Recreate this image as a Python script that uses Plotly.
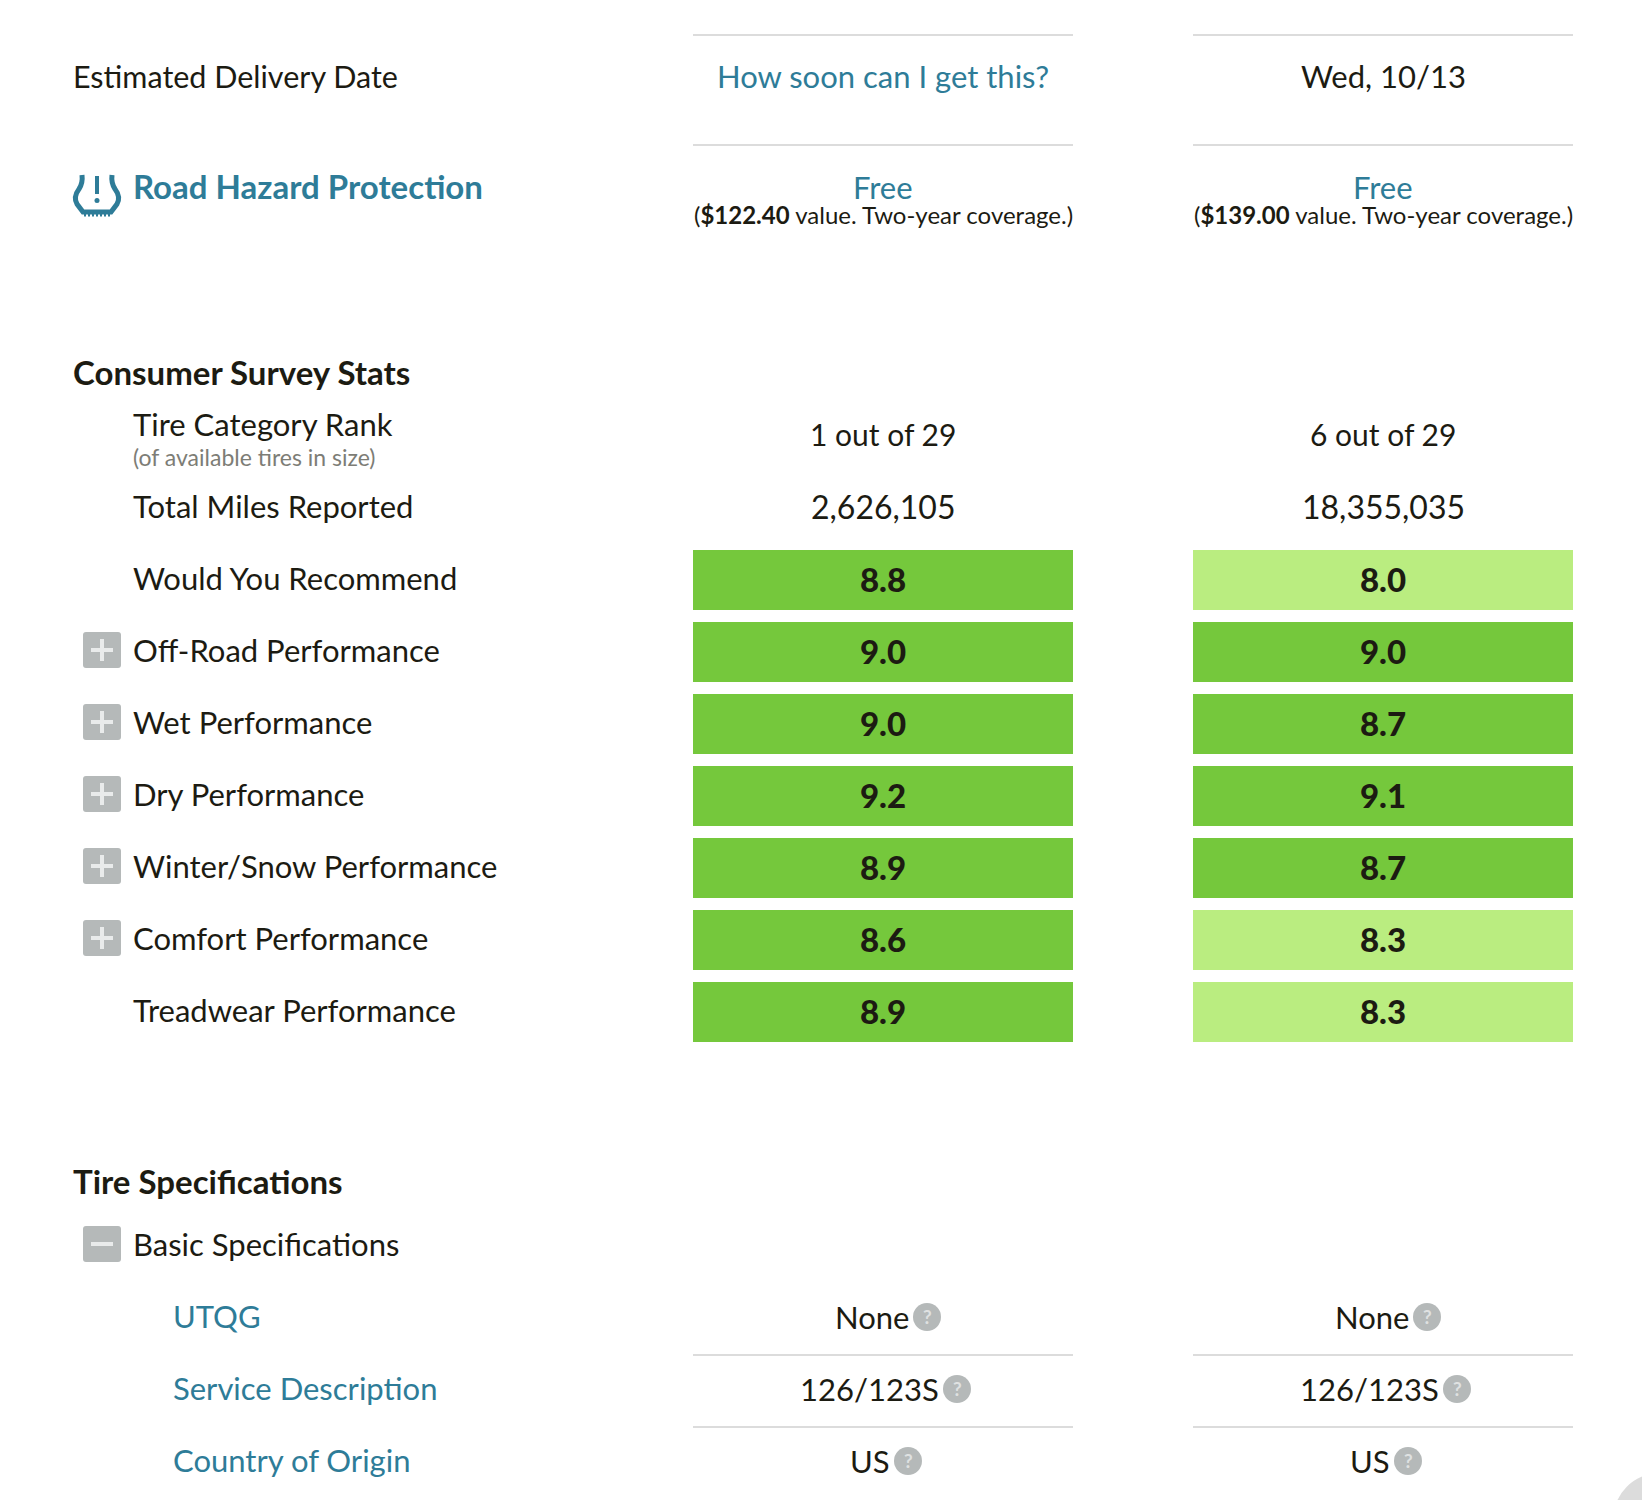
"""Tire comparison table."""

import plotly.graph_objects as go

# values
survey_rows = [
    "Would You Recommend",
    "Off-Road Performance",
    "Wet Performance",
    "Dry Performance",
    "Winter/Snow Performance",
    "Comfort Performance",
    "Treadwear Performance",
]
tire_a_scores = [8.8, 9.0, 9.0, 9.2, 8.9, 8.6, 8.9]
tire_b_scores = [8.0, 9.0, 8.7, 9.1, 8.7, 8.3, 8.3]
tire_columns = ["tire_a", "tire_b"]

delivery = ["How soon can I get this?", "Wed, 10/13"]
hazard_value = ["$122.40", "$139.00"]
category_rank = ["1 out of 29", "6 out of 29"]
total_miles = ["2,626,105", "18,355,035"]
spec_rows = ["UTQG", "Service Description", "Country of Origin"]
spec_values = ["None", "126/123S", "US"]

# page layout, in screen pixels
WIDTH, HEIGHT = 1642, 1500
COL_CENTER = {"tire_a": 883, "tire_b": 1383}
COL_HALF = 190
LABEL_X = 131
HEAD_X = 71
SPEC_X = 171
ROW_TOP = 580
ROW_STEP = 72
SPEC_Y = [1317, 1389, 1461]
HELP_OFFSET = [44, 74, 25]

FONT = "Lato"
INK = "#1c1b12"
TEAL = "#2e7c98"
GREY = "#b5b9b9"
RULE = "#dcdcdc"
GREEN = "#75c83c"
LIGHT_GREEN = "#baed80"
BUTTON_MARK = "#e9ebeb"


def label(text, x, y, size=31, color=INK, anchor="left"):
    fig.add_annotation(
        x=x, y=y, text=text, showarrow=False, xanchor=anchor, yanchor="middle",
        font=dict(family=FONT, size=size, color=color),
    )


def rule(x0, x1, y):
    fig.add_shape(type="line", x0=x0, x1=x1, y0=y, y1=y, line=dict(color=RULE, width=2))


def button(y, plus=True):
    x0, x1, y0, y1 = 83, 121, y - 18, y + 18
    r = 3
    path = (
        f"M {x0 + r} {y0} L {x1 - r} {y0} Q {x1} {y0} {x1} {y0 + r} L {x1} {y1 - r} "
        f"Q {x1} {y1} {x1 - r} {y1} L {x0 + r} {y1} Q {x0} {y1} {x0} {y1 - r} "
        f"L {x0} {y0 + r} Q {x0} {y0} {x0 + r} {y0} Z"
    )
    fig.add_shape(type="path", path=path, fillcolor=GREY, line_width=0)
    fig.add_shape(type="line", x0=91, x1=113, y0=y, y1=y, line=dict(color=BUTTON_MARK, width=4))
    if plus:
        fig.add_shape(type="line", x0=102, x1=102, y0=y - 11, y1=y + 11, line=dict(color=BUTTON_MARK, width=4))


fig = go.Figure()

row_y = [ROW_TOP + i * ROW_STEP for i in range(len(survey_rows))]
fig.add_trace(
    go.Heatmap(
        x=[COL_CENTER[c] for c in tire_columns],
        y=row_y,
        z=[[a, b] for a, b in zip(tire_a_scores, tire_b_scores)],
        zmin=8.0,
        zmax=9.0,
        colorscale=[[0, LIGHT_GREEN], [0.5, LIGHT_GREEN], [0.5, GREEN], [1, GREEN]],
        showscale=False,
        xgap=120,
        ygap=12,
        texttemplate="%{z:.1f}",
        textfont=dict(family=FONT, size=33, color=INK, weight=900),
        hoverinfo="skip",
    )
)

# left column
label("Estimated Delivery Date", HEAD_X, 76, size=30.5)
label("<b>Road Hazard Protection</b>", LABEL_X, 186, size=33, color=TEAL)
label("<b>Consumer Survey Stats</b>", HEAD_X, 372, size=33)
label("Tire Category Rank", LABEL_X, 424)
label("(of available tires in size)", LABEL_X, 457, size=23, color="#7d7d76")
label("Total Miles Reported", LABEL_X, 506)
for name, y in zip(survey_rows, row_y):
    label(name, LABEL_X, y - 2)
label("<b>Tire Specifications</b>", HEAD_X, 1181, size=33)
label("Basic Specifications", LABEL_X, 1244)
for name, y in zip(spec_rows, SPEC_Y):
    label(name, SPEC_X, y - 1, color=TEAL)

# tire columns
for i, col in enumerate(tire_columns):
    cx = COL_CENTER[col]
    for y in [35, 145, 1355, 1427]:
        rule(cx - COL_HALF, cx + COL_HALF, y)
    label(delivery[i], cx, 76, color=TEAL if i == 0 else INK, anchor="center")
    label("Free", cx, 187, color=TEAL, anchor="center")
    label(f"(<b>{hazard_value[i]}</b> value. Two-year coverage.)", cx, 214, size=24, anchor="center")
    label(category_rank[i], cx, 434, size=30, anchor="center")
    label(total_miles[i], cx, 506, size=32, anchor="center")
    for value, y, off in zip(spec_values, SPEC_Y, HELP_OFFSET):
        label(value, cx + off - 16, y, anchor="right")
        fig.add_shape(
            type="circle", x0=cx + off - 14, x1=cx + off + 14, y0=y - 14, y1=y + 14,
            fillcolor=GREY, line_width=0,
        )
        label("<b>?</b>", cx + off, y - 1, size=19, color="#dfe1e1", anchor="center")

# expand / collapse buttons
for y in row_y[1:6]:
    button(y - 2)
button(1244, plus=False)

# tire pressure icon
fig.add_shape(
    type="path",
    path="M 82 175 Q 83 183 79 189 Q 73 197 77 204 L 83 212 L 111 212 L 117 204 Q 121 197 115 189 Q 111 183 112 175",
    line=dict(color=TEAL, width=5),
)
fig.add_shape(type="line", x0=84, x1=110, y0=215, y1=215, line=dict(color=TEAL, width=3, dash="2px,2px"))
fig.add_shape(type="line", x0=97, x1=97, y0=176, y1=194, line=dict(color=TEAL, width=4))
fig.add_shape(type="circle", x0=94.5, x1=99.5, y0=198, y1=203, fillcolor=TEAL, line_width=0)

# corner of the scroll button, cut by the page edge
fig.add_shape(type="circle", x0=1613, x1=1707, y0=1473, y1=1567, fillcolor=RULE, line_width=0)

fig.update_xaxes(range=[0, WIDTH], visible=False, fixedrange=True)
fig.update_yaxes(range=[HEIGHT, 0], visible=False, fixedrange=True)
fig.update_layout(
    width=WIDTH,
    height=HEIGHT,
    margin=dict(l=0, r=0, t=0, b=0),
    paper_bgcolor="white",
    plot_bgcolor="white",
    showlegend=False,
)

fig.write_html(
    "out.html",
    config={"displayModeBar": False},
    post_script="document.body.style.margin='0';",
)
